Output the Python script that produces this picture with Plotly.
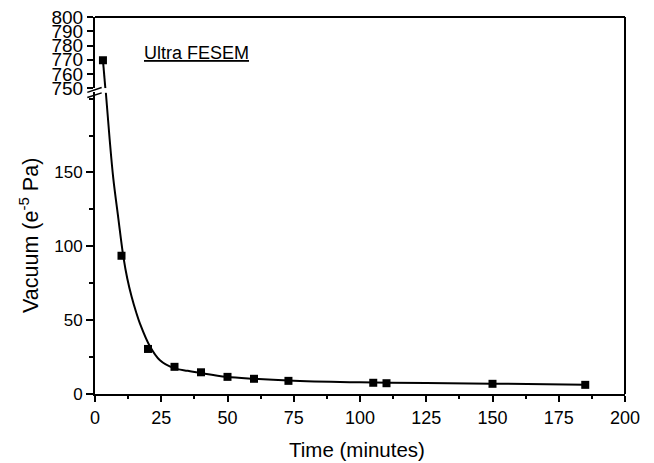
import plotly.graph_objects as go

# Measured points
time_min = [3, 10, 20, 30, 40, 50, 60, 73, 105, 110, 150, 185]
vacuum = [769.6, 93.6, 30.5, 18.4, 14.7, 11.6, 10.3, 8.9, 7.6, 7.3, 6.9, 6.2]

# Fitted curve (upper part above the break, lower part below)
fit_x_upper = [3, 3.9]
fit_y_upper = [769.6, 750]
fit_x_lower = [4.1, 5.5, 6.9, 8.8, 10.7, 12.2, 13.8, 15.5, 17.0, 20.7, 24.5, 29.5, 35, 39.6, 49.6, 59.6, 75, 100, 125, 150, 185]
fit_y_lower = [204, 173, 146, 119, 93, 78, 66, 55.5, 47.5, 32.3, 22.8, 17.7, 15.7, 14.3, 11.6, 10.3, 9.0, 7.9, 7.4, 7.0, 6.3]

x_ticks = [0, 25, 50, 75, 100, 125, 150, 175, 200]
y_low_ticks = [0, 50, 100, 150]
y_up_ticks = [750, 760, 770, 780, 790, 800]

BREAK = 750
up_x = [x for x, y in zip(time_min, vacuum) if y >= BREAK]
up_y = [y for y in vacuum if y >= BREAK]
lo_x = [x for x, y in zip(time_min, vacuum) if y < BREAK]
lo_y = [y for y in vacuum if y < BREAK]

FONT = "Liberation Sans, Arial, sans-serif"
fig = go.Figure()

fig.add_trace(go.Scatter(x=fit_x_lower, y=fit_y_lower, mode="lines", line=dict(color="black", width=2, shape="spline"),
                         xaxis="x", yaxis="y", showlegend=False, hoverinfo="skip"))
fig.add_trace(go.Scatter(x=fit_x_upper, y=fit_y_upper, mode="lines", line=dict(color="black", width=2),
                         xaxis="x", yaxis="y2", showlegend=False, hoverinfo="skip"))
fig.add_trace(go.Scatter(x=lo_x, y=lo_y, mode="markers", marker=dict(symbol="square", size=8, color="black"),
                         xaxis="x", yaxis="y", showlegend=False))
fig.add_trace(go.Scatter(x=up_x, y=up_y, mode="markers", marker=dict(symbol="square", size=8, color="black"),
                         xaxis="x", yaxis="y2", showlegend=False))

axis_common = dict(showline=True, linecolor="black", linewidth=2, ticks="outside", tickcolor="black",
                   tickwidth=1.5, showgrid=False, zeroline=False, ticklabeloverflow="allow",
                   automargin=False)

fig.update_layout(
    width=654, height=463,
    margin=dict(l=87, r=36.5, t=8.7, b=76.5, autoexpand=False),
    paper_bgcolor="white", plot_bgcolor="white",
    font=dict(family=FONT, color="black", size=17),
    xaxis=dict(range=[0, 200], tickvals=x_ticks, ticklen=6, anchor="y",
               minor=dict(ticks="outside", ticklen=3, dtick=12.5, tick0=0, tickcolor="black", tickwidth=1.5),
               tickfont=dict(size=18), **axis_common),
    yaxis=dict(domain=[0, 0.8007], range=[0, 204.4], tickvals=y_low_ticks, ticklen=7,
               minor=dict(ticks="outside", ticklen=4, dtick=25, tick0=0, tickcolor="black", tickwidth=1.5),
               tickfont=dict(size=17), anchor="x", **axis_common),
    yaxis2=dict(domain=[0.811, 1], range=[750, 800], tickvals=y_up_ticks, ticklen=6,
                tickfont=dict(size=19), anchor="x", **axis_common),
)

# frame: top and right border
fig.add_shape(type="line", xref="paper", yref="paper", x0=0, x1=1, y0=1, y1=1, line=dict(color="black", width=2))
fig.add_shape(type="line", xref="paper", yref="paper", x0=1, x1=1, y0=0, y1=1, line=dict(color="black", width=2))
# axis break marks
for ya, yb in [(0.800, 0.8132), (0.7867, 0.7988)]:
    fig.add_shape(type="line", xref="paper", yref="paper", x0=-0.0145, x1=0.0126, y0=ya, y1=yb,
                  line=dict(color="black", width=1.5))

fig.add_annotation(text="Time (minutes)", xref="paper", yref="paper", x=0.494, y=-0.146,
                   showarrow=False, font=dict(size=20.5), xanchor="center", yanchor="middle")
fig.add_annotation(text="Vacuum (e<sup>-5</sup> Pa)", xref="paper", yref="paper", x=-0.126, y=0.42,
                   textangle=-90, showarrow=False, font=dict(size=21.5), xanchor="center", yanchor="middle")
fig.add_annotation(text="<u>Ultra FESEM</u>", xref="paper", yref="paper", x=0.192, y=0.905,
                   showarrow=False, font=dict(size=18), xanchor="center", yanchor="middle")

fig.write_html("out.html")
